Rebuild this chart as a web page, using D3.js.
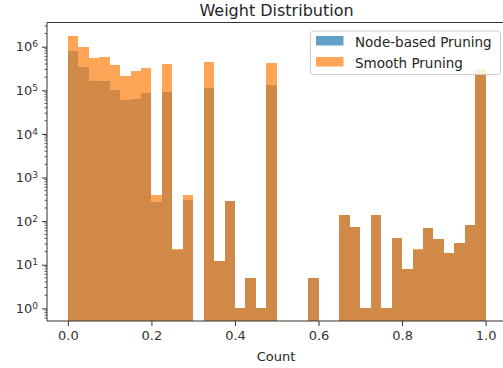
<!DOCTYPE html>
<html><head><meta charset="utf-8">
<script src="https://cdn.jsdelivr.net/npm/d3@7"></script>
<style>
body{margin:0;background:#fff;}
svg{display:block;font-family:"DejaVu Sans",sans-serif;}
</style></head><body>
<svg id="c" width="503" height="368"></svg>
<script>
// ---- data ----
const binEdges = [0.000,0.025,0.050,0.075,0.100,0.125,0.150,0.175,0.200,0.225,
                  0.250,0.275,0.300,0.325,0.350,0.375,0.400,0.425,0.450,0.475,
                  0.500,0.525,0.550,0.575,0.600,0.625,0.650,0.675,0.700,0.725,
                  0.750,0.775,0.800,0.825,0.850,0.875,0.900,0.925,0.950,0.975,1.000];
const nodeCounts = [790000,340000,160000,160000,100000,60000,64000,85000,280,93000,
                    22,300,0,115000,12,290,1,5,1,130000,
                    0,0,0,5,0,0,140,74,1,140,
                    1,41,8,22,68,39,19,32,81,220000];
const smoothCounts = [1780000,1000000,560000,590000,380000,210000,280000,330000,390,400000,
                      23,390,0,440000,12,290,1,5,1,420000,
                      0,0,0,5,0,0,140,74,1,140,
                      1,41,8,23,68,39,19,32,81,310000];
const seriesNames = ["Node-based Pruning","Smooth Pruning"];
const xTicks = [0,0.2,0.4,0.6,0.8,1.0];
const yTickExps = [0,1,2,3,4,5,6];

const svg = d3.select("#c");
const L=47, R=506.5, T=22.5, B=321;
const x = d3.scaleLinear().domain([-0.05,1.05]).range([L,R]);
const y = d3.scaleLog().domain([0.512,3.59e6]).range([B,T]);

const colors = ["#1f77b4","#ff7f0e"];
svg.append("defs").append("clipPath").attr("id","clip")
  .append("rect").attr("x",L).attr("y",T).attr("width",R-L).attr("height",B-T);

const plot = svg.append("g").attr("clip-path","url(#clip)");
[nodeCounts, smoothCounts].forEach((counts,si)=>{
  plot.append("g").attr("shape-rendering","crispEdges").selectAll("rect")
    .data(counts.map((c,i)=>({c,x0:binEdges[i],x1:binEdges[i+1]})).filter(d=>d.c>0))
    .join("rect")
    .attr("x",d=>x(d.x0))
    .attr("width",d=>x(d.x1)-x(d.x0))
    .attr("y",d=>y(d.c))
    .attr("height",d=>B-y(d.c))
    .attr("fill",colors[si]).attr("fill-opacity",0.7);
});

// spines
const spineColor="#333";
svg.append("line").attr("x1",L).attr("x2",L).attr("y1",T).attr("y2",B).attr("stroke",spineColor);
svg.append("line").attr("x1",L).attr("x2",R).attr("y1",B).attr("y2",B).attr("stroke",spineColor);
svg.append("line").attr("x1",L).attr("x2",R).attr("y1",T).attr("y2",T).attr("stroke",spineColor);
svg.append("line").attr("x1",R).attr("x2",R).attr("y1",T).attr("y2",B).attr("stroke",spineColor);

// x axis
const xa = svg.append("g").attr("transform",`translate(0,${B})`)
  .call(d3.axisBottom(x).tickValues(xTicks).tickFormat(d3.format(".1f")).tickSize(5).tickPadding(5));
xa.select(".domain").remove();
xa.selectAll("line").attr("stroke",spineColor);
xa.selectAll("text").attr("font-size",13).attr("fill","#333").attr("font-family","DejaVu Sans");

// y axis major
const ya = svg.append("g").attr("transform",`translate(${L},0)`)
  .call(d3.axisLeft(y).tickValues(yTickExps.map(e=>Math.pow(10,e))).tickFormat("").tickSize(5));
ya.select(".domain").remove();
ya.selectAll("line").attr("stroke",spineColor);
ya.selectAll(".tick").each(function(d){
  const t=d3.select(this).append("text").attr("x",-9).attr("dy","0.32em")
    .attr("text-anchor","end").attr("fill","#333").attr("font-size",13).attr("font-family","DejaVu Sans");
  t.append("tspan").text("10");
  t.append("tspan").attr("dy","-0.45em").attr("font-size",9).text(Math.round(Math.log10(d)));
});
// minor ticks
const minor=[];
for(let e=-1;e<=6;e++) for(let m=2;m<=9;m++){const v=m*Math.pow(10,e); if(v>=0.512&&v<=3.59e6) minor.push(v);}
svg.append("g").selectAll("line").data(minor).join("line")
  .attr("x1",L-2.5).attr("x2",L).attr("y1",d=>y(d)).attr("y2",d=>y(d)).attr("stroke",spineColor).attr("stroke-width",0.8);

// title & labels
svg.append("text").attr("x",276.5).attr("y",16).attr("text-anchor","middle")
  .attr("font-size",16).attr("fill","#262626").text("Weight Distribution");
svg.append("text").attr("x",276).attr("y",361).attr("text-anchor","middle")
  .attr("font-size",13).attr("fill","#262626").text("Count");

// legend
const lg = svg.append("g");
lg.append("rect").attr("x",310.5).attr("y",31).attr("width",190).attr("height",43.5).attr("rx",3)
  .attr("fill","#fff").attr("fill-opacity",0.8).attr("stroke","#ccc");
seriesNames.forEach((n,i)=>{
  lg.append("rect").attr("x",316).attr("y",36+i*21).attr("width",27.5).attr("height",9.5)
    .attr("fill",colors[i]).attr("fill-opacity",0.7);
  lg.append("text").attr("x",355).attr("y",46.5+i*21).attr("font-size",13.5).attr("fill","#262626").text(n);
});
</script></body></html>
